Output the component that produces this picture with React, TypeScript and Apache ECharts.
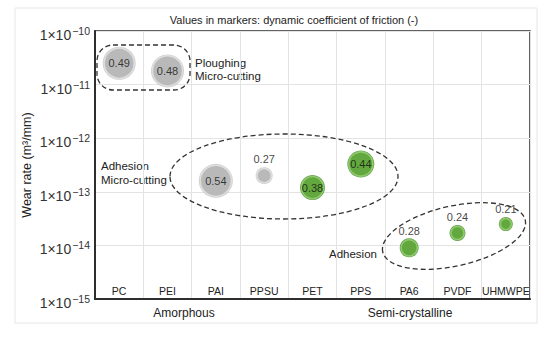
import React, { useEffect, useRef } from "react";
import * as echarts from "echarts";

const categories = ["PC", "PEI", "PAI", "PPSU", "PET", "PPS", "PA6", "PVDF", "UHMWPE"];
const wearRates = [2.5e-11, 1.8e-11, 1.6e-13, 2.0e-13, 1.2e-13, 3.3e-13, 9e-15, 1.7e-14, 2.5e-14];
const frictionCoefficients = [0.49, 0.48, 0.54, 0.27, 0.38, 0.44, 0.28, 0.24, 0.21];
const markerDiameters = [33, 33, 34, 17, 25, 27, 19, 16, 14];
const materialClass = ["amorphous", "amorphous", "amorphous", "amorphous", "semi", "semi", "semi", "semi", "semi"];
const yMinExponent = -15;
const yMaxExponent = -10;

const FONT = "Liberation Sans";

const palette: Record<string, { edge: string; fill: string; ring: string }> = {
  amorphous: { edge: "#c4c4c4", fill: "#b3b3b3", ring: "#e4e4e4" },
  semi: { edge: "#458c28", fill: "#62a93a", ring: "#9ad475" },
};

export default function App() {
  const ref = useRef<HTMLDivElement>(null);
  useEffect(() => {
    if (!ref.current) return;
    const chart = echarts.init(ref.current, null, { renderer: "svg" });

    const backData = categories.map((c, i) => ({
      value: [c, wearRates[i]],
      symbolSize: markerDiameters[i],
      itemStyle: { color: palette[materialClass[i]].edge },
    }));
    const frontData = categories.map((c, i) => {
      const big = markerDiameters[i] >= 24;
      return {
        value: [c, wearRates[i], frictionCoefficients[i]],
        symbolSize: markerDiameters[i] - 3,
        itemStyle: {
          color: palette[materialClass[i]].fill,
          borderColor: palette[materialClass[i]].ring,
          borderWidth: 1.5,
        },
        label: big
          ? { show: true, position: "inside" }
          : { show: true, position: "top", distance: 3 },
      };
    });

    chart.setOption({
      animation: false,
      backgroundColor: "#ffffff",
      grid: {
        left: 95,
        right: 20,
        top: 31,
        bottom: 38,
        show: true,
        borderColor: "#2e2e2e",
        borderWidth: 1.5,
      },
      xAxis: {
        type: "category",
        data: categories,
        boundaryGap: true,
        axisLine: { show: true, lineStyle: { color: "#2e2e2e", width: 2 } },
        axisTick: { show: false },
        axisLabel: {
          inside: true,
          margin: 3,
          fontSize: 10.5,
          fontFamily: FONT,
          color: "#222",
          interval: 0,
        },
        splitLine: { show: true, interval: 0, lineStyle: { color: "#e3e3e3", width: 1 } },
      },
      yAxis: {
        type: "log",
        logBase: 10,
        min: Math.pow(10, yMinExponent),
        max: Math.pow(10, yMaxExponent),
        interval: 1,
        axisLine: { show: true, lineStyle: { color: "#2e2e2e", width: 2 } },
        axisTick: { show: false },
        splitLine: { show: true, lineStyle: { color: "#e3e3e3", width: 1 } },
        axisLabel: {
          margin: 5,
          formatter: (v: number) => {
            const e = Math.round(Math.log10(v));
            return `{b|1×10}{s|−${Math.abs(e)}}`;
          },
          rich: {
            b: { fontSize: 14, fontFamily: FONT, color: "#333", padding: [8, 0, 0, 0] },
            s: { fontSize: 10.5, fontFamily: FONT, color: "#333", padding: [0, 0, 0, 1] },
          },
        },
      },
      series: [
        {
          type: "scatter",
          data: backData,
          z: 2,
          silent: true,
        },
        {
          type: "scatter",
          data: frontData,
          z: 3,
          label: {
            show: true,
            fontSize: 11,
            fontFamily: FONT,
            color: "#111",
            formatter: (p: any) => p.value[2].toFixed(2),
          },
        },
      ],
      graphic: [
        {
          type: "rect",
          z: -10,
          shape: { x: 15, y: 8, width: 522, height: 315 },
          style: { fill: "none", stroke: "#e6e6e6", lineWidth: 1 },
        },
        {
          type: "text",
          x: 294,
          y: 20,
          style: {
            text: "Values in markers: dynamic coefficient of friction (-)",
            fontSize: 11,
            fontFamily: FONT,
            fill: "#222",
            align: "center",
            verticalAlign: "middle",
          },
        },
        {
          type: "text",
          x: 27,
          y: 165,
          rotation: Math.PI / 2,
          style: {
            text: "Wear rate (m³/mm)",
            fontSize: 12.5,
            fontFamily: FONT,
            fill: "#222",
            align: "center",
            verticalAlign: "middle",
          },
        },
        {
          type: "rect",
          z: 10,
          shape: { x: 97, y: 45, width: 93, height: 45, r: 16 },
          style: { fill: "none", stroke: "#333", lineWidth: 1.3, lineDash: [5, 3] },
        },
        {
          type: "ellipse",
          z: 10,
          shape: { cx: 284, cy: 176.5, rx: 114, ry: 42.5 },
          style: { fill: "none", stroke: "#333", lineWidth: 1.3, lineDash: [5, 3] },
        },
        {
          type: "ellipse",
          z: 10,
          x: 454,
          y: 236,
          rotation: 0.22,
          shape: { cx: 0, cy: 0, rx: 73, ry: 30 },
          style: { fill: "none", stroke: "#333", lineWidth: 1.3, lineDash: [5, 3] },
        },
        {
          type: "text",
          x: 195,
          y: 69.5,
          style: {
            text: "Ploughing\nMicro-cutting",
            fontSize: 11.5,
            lineHeight: 13,
            fontFamily: FONT,
            fill: "#222",
            align: "left",
            verticalAlign: "middle",
          },
        },
        {
          type: "text",
          x: 101,
          y: 173,
          style: {
            text: "Adhesion\nMicro-cutting",
            fontSize: 11.5,
            lineHeight: 14,
            fontFamily: FONT,
            fill: "#222",
            align: "left",
            verticalAlign: "middle",
          },
        },
        {
          type: "text",
          x: 329,
          y: 254,
          style: {
            text: "Adhesion",
            fontSize: 11.5,
            fontFamily: FONT,
            fill: "#222",
            align: "left",
            verticalAlign: "middle",
          },
        },
        {
          type: "text",
          x: 184,
          y: 313,
          style: {
            text: "Amorphous",
            fontSize: 12,
            fontFamily: FONT,
            fill: "#222",
            align: "center",
            verticalAlign: "middle",
          },
        },
        {
          type: "text",
          x: 410,
          y: 313,
          style: {
            text: "Semi-crystalline",
            fontSize: 12,
            fontFamily: FONT,
            fill: "#222",
            align: "center",
            verticalAlign: "middle",
          },
        },
      ],
    });
    return () => chart.dispose();
  }, []);
  return <div ref={ref} style={{ width: 550, height: 337, position: "absolute", left: 0, top: 0 }} />;
}
